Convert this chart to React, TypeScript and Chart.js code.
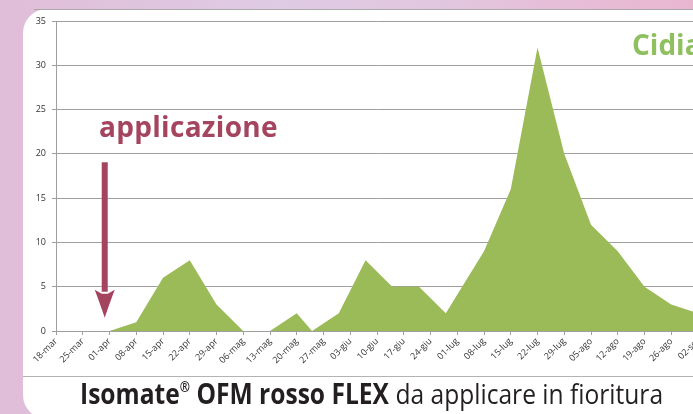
import React, { useEffect, useLayoutEffect, useRef, useState } from "react";
import { Chart, registerables } from "chart.js";

Chart.register(...registerables);

// ---- data ----
const tickLabels = [
  "18-mar", "25-mar", "01-apr", "08-apr", "15-apr", "22-apr", "29-apr",
  "06-mag", "13-mag", "20-mag", "27-mag", "03-giu", "10-giu", "17-giu",
  "24-giu", "01-lug", "08-lug", "15-lug", "22-lug", "29-lug", "05-ago",
  "12-ago", "19-ago", "26-ago", "02-set",
];
const sampleDates = [
  "01-apr", "08-apr", "15-apr", "22-apr", "29-apr", "06-mag", "13-mag",
  "20-mag", "24-mag", "31-mag", "07-giu", "14-giu", "21-giu", "28-giu",
  "08-lug", "15-lug", "22-lug", "29-lug", "05-ago", "12-ago", "19-ago",
  "26-ago", "02-set",
];
const captures = [0, 1, 6, 8, 3, 0, 0, 2, 0, 2, 8, 5, 5, 2, 9, 16, 32, 20, 12, 9, 5, 3, 2];
const yTicks = [0, 5, 10, 15, 20, 25, 30, 35];

// arrow annotation (in data units: day offset, captures)
const arrowDay = 12.75;
const arrowTopValue = 19.05;
const arrowTipValue = 1.5;

const monthIndex: Record<string, number> = { mar: 2, apr: 3, mag: 4, giu: 5, lug: 6, ago: 7, set: 8 };
function dayOf(label: string): number {
  const [d, m] = label.split("-");
  const t = Date.UTC(2013, monthIndex[m], parseInt(d, 10));
  const t0 = Date.UTC(2013, 2, 18);
  return Math.round((t - t0) / 86400000);
}

const MAROON = "#a4445f";
const GREEN_TEXT = "#8fc05f";
const AREA = "#9bbb59";
const GRID = "#9f9f9f";

function FitText(props: { left: number; top: number; width: number; style: React.CSSProperties; children: React.ReactNode }) {
  const ref = useRef<HTMLDivElement>(null);
  const [sx, setSx] = useState(1);
  useLayoutEffect(() => {
    const measure = () => {
      if (ref.current) {
        const w = ref.current.offsetWidth;
        if (w) setSx(props.width / w);
      }
    };
    measure();
    (document as any).fonts?.ready?.then(measure);
  }, [props.width]);
  return (
    <div
      ref={ref}
      style={{
        position: "absolute",
        left: props.left,
        top: props.top,
        width: "max-content",
        whiteSpace: "nowrap",
        transform: `scaleX(${sx})`,
        transformOrigin: "left top",
        ...props.style,
      }}
    >
      {props.children}
    </div>
  );
}

export default function App() {
  const canvasRef = useRef<HTMLCanvasElement>(null);

  useEffect(() => {
    const canvas = canvasRef.current;
    if (!canvas) return;
    const points = sampleDates.map((d, i) => ({ x: dayOf(d), y: captures[i] }));
    const tickFont = { family: "'Open Sans', sans-serif", size: 9 };

    const arrowPlugin = {
      id: "arrow",
      afterDraw(chart: any) {
        const xs = chart.scales.x;
        const ys = chart.scales.y;
        const ctx = chart.ctx;
        const x = xs.getPixelForValue(arrowDay);
        const yTop = ys.getPixelForValue(arrowTopValue);
        const yTip = ys.getPixelForValue(arrowTipValue);
        const headLen = 28;
        const headHalf = 10;
        const shaftHalf = 3;
        ctx.save();
        ctx.fillStyle = MAROON;
        ctx.fillRect(x - shaftHalf, yTop, shaftHalf * 2, yTip - headLen - yTop + 2);
        ctx.beginPath();
        ctx.moveTo(x - headHalf, yTip - headLen);
        ctx.lineTo(x - shaftHalf, yTip - headLen + 4);
        ctx.lineTo(x + shaftHalf, yTip - headLen + 4);
        ctx.lineTo(x + headHalf, yTip - headLen);
        ctx.quadraticCurveTo(x + 4, yTip - 12, x, yTip);
        ctx.quadraticCurveTo(x - 4, yTip - 12, x - headHalf, yTip - headLen);
        ctx.closePath();
        ctx.fill();
        ctx.restore();
      },
    };

    const chart = new Chart(canvas, {
      type: "line",
      data: {
        datasets: [
          {
            data: points,
            fill: "origin",
            backgroundColor: AREA,
            borderColor: "rgba(0,0,0,0)",
            borderWidth: 0,
            pointRadius: 0,
            tension: 0,
          },
        ],
      },
      options: {
        animation: false,
        responsive: false,
        maintainAspectRatio: false,
        layout: { padding: { top: 21, right: 22, left: 0, bottom: 0 } },
        plugins: { legend: { display: false }, tooltip: { enabled: false } },
        scales: {
          x: {
            type: "linear",
            min: 0,
            max: dayOf(tickLabels[tickLabels.length - 1]),
            afterBuildTicks: (scale: any) => {
              scale.ticks = tickLabels.map((l) => ({ value: dayOf(l) }));
            },
            afterFit: (scale: any) => {
              scale.height = 45;
            },
            grid: { drawOnChartArea: false, drawTicks: true, tickLength: 4, color: GRID },
            border: { display: true, color: GRID },
            ticks: {
              autoSkip: false,
              minRotation: 45,
              maxRotation: 45,
              padding: 1,
              font: tickFont,
              color: "#333333",
              callback: (_v: any, i: number) => tickLabels[i],
            },
          },
          y: {
            type: "linear",
            min: 0,
            max: 35,
            afterBuildTicks: (scale: any) => {
              scale.ticks = yTicks.map((v) => ({ value: v }));
            },
            afterFit: (scale: any) => {
              scale.width = 56;
            },
            grid: { color: GRID, tickLength: 4 },
            border: { display: true, color: GRID },
            ticks: { padding: 6, font: tickFont, color: "#333333" },
          },
        },
      } as any,
      plugins: [arrowPlugin],
    });
    return () => chart.destroy();
  }, []);

  return (
    <div
      style={{
        position: "fixed",
        left: 0,
        top: 0,
        width: 693,
        height: 414,
        overflow: "hidden",
        background: "linear-gradient(90deg, #e0bdd8 0%, #dfcbe4 40%, #e2c6df 65%, #e7bcd6 85%, #e9b6d0 100%)",
      }}
    >
      <div
        style={{
          position: "absolute",
          left: 23,
          top: 9,
          width: 760,
          height: 410,
          background: "#ffffff",
          borderRadius: 24,
        }}
      />
      <div style={{ position: "absolute", left: 34, top: 9, width: 700, height: 1, background: "#a9a9a9" }} />
      <div style={{ position: "absolute", left: 23, top: 376, width: 700, height: 1, background: "#b3b3b3" }} />
      <canvas
        ref={canvasRef}
        width={720}
        height={376}
        style={{ position: "absolute", left: 0, top: 0, width: 720, height: 376 }}
      />
      <div
        style={{
          position: "absolute",
          left: 99,
          top: 112,
          fontFamily: "'Open Sans', sans-serif",
          fontWeight: 700,
          fontSize: 28,
          lineHeight: "28px",
          letterSpacing: "0.3px",
          color: MAROON,
          whiteSpace: "nowrap",
        }}
      >
        applicazione
      </div>
      <div
        style={{
          position: "absolute",
          left: 632,
          top: 30,
          fontFamily: "'Open Sans', sans-serif",
          fontWeight: 700,
          fontSize: 28,
          lineHeight: "28px",
          color: GREEN_TEXT,
          whiteSpace: "nowrap",
        }}
      >
        Cidia molesta
      </div>
      <FitText
        left={80}
        top={379}
        width={583}
        style={{
          fontFamily: "'Open Sans', sans-serif",
          fontSize: 28,
          lineHeight: "28px",
          color: "#231f20",
        }}
      >
        <span style={{ fontWeight: 700 }}>
          Isomate
          <span style={{ fontSize: "0.5em", position: "relative", top: "-0.85em" }}>®</span> OFM rosso FLEX
        </span>{" "}
        da applicare in fioritura
      </FitText>
    </div>
  );
}
